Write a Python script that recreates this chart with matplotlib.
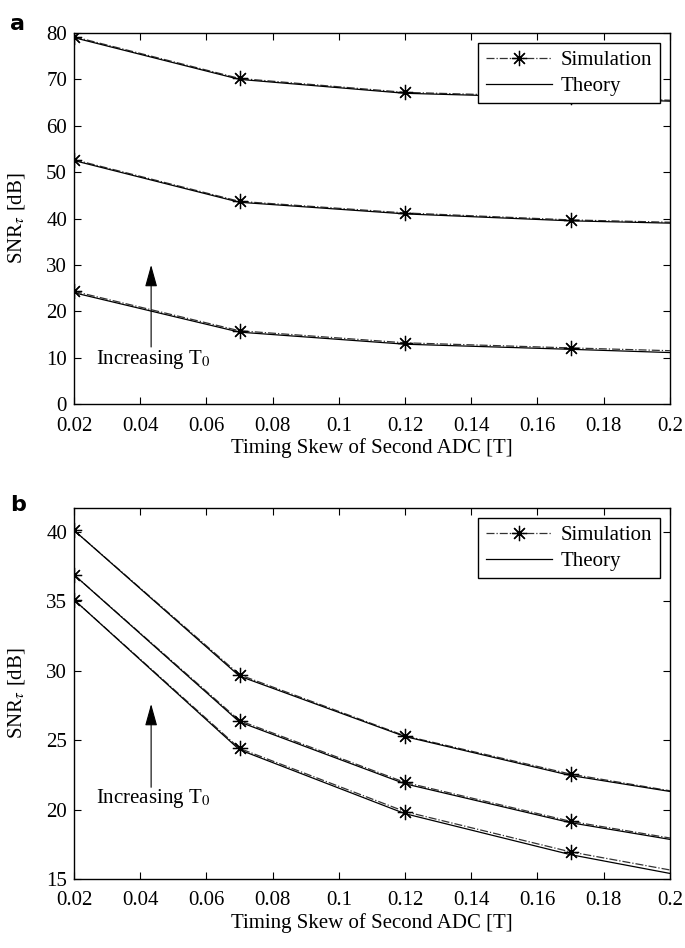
import matplotlib
matplotlib.use("Agg")
import matplotlib.pyplot as plt

plt.rcParams['font.family'] = ['Liberation Serif', 'DejaVu Serif']
plt.rcParams['mathtext.fontset'] = 'stix'

# skew values (T); markers only on the first four
x = [0.02, 0.07, 0.12, 0.17, 0.2]
xticks = [0.02, 0.04, 0.06, 0.08, 0.1, 0.12, 0.14, 0.16, 0.18, 0.2]
xticklabels = ["0.02", "0.04", "0.06", "0.08", "0.1", "0.12", "0.14", "0.16", "0.18", "0.2"]

# panel a
a_theory = [
    [79.0, 70.0, 67.0, 66.0, 65.3],
    [52.5, 43.5, 41.0, 39.5, 39.0],
    [24.0, 15.5, 12.9, 11.8, 11.1],
]
a_sim = [
    [79.2, 70.2, 67.2, 66.2, 65.5],
    [52.7, 43.7, 41.2, 39.7, 39.2],
    [24.3, 15.8, 13.2, 12.1, 11.5],
]
a_yticks = [0, 10, 20, 30, 40, 50, 60, 70, 80]

# panel b
b_theory = [
    [40.1, 29.6, 25.25, 22.45, 21.3],
    [36.9, 26.3, 21.85, 19.05, 17.85],
    [35.1, 24.3, 19.7, 16.75, 15.4],
]
b_sim = [
    [40.1, 29.7, 25.3, 22.55, 21.35],
    [36.9, 26.4, 21.95, 19.15, 17.95],
    [35.1, 24.4, 19.85, 16.95, 15.65],
]
b_yticks = [15, 20, 25, 30, 35, 40]

fig = plt.figure(figsize=(6.85, 9.48), dpi=100)
ax_a = fig.add_axes([0.108, 0.5738, 0.870, 0.3914])
ax_b = fig.add_axes([0.108, 0.0728, 0.870, 0.3913])

asterisk = (8, 2, 0)


def draw(ax, theory, sim, yticks, ylim, arrow, text_y):
    for i in range(len(theory)):
        ax.plot(x, sim[i], linestyle='-.', color='#333333', linewidth=0.9,
                marker=asterisk, markevery=[0, 1, 2, 3], markersize=11,
                markeredgewidth=0.9, markeredgecolor='black',
                label='Simulation' if i == 0 else None)
        ax.plot(x, theory[i], '-', color='black', linewidth=0.9,
                label='Theory' if i == 0 else None)
    ax.set_xlim(0.02, 0.2)
    ax.set_ylim(*ylim)
    ax.set_xticks(xticks)
    ax.set_xticklabels(xticklabels)
    ax.set_yticks(yticks)
    ax.tick_params(direction='in', top=True, right=True, labelsize=15,
                   length=5, width=0.8)
    ax.tick_params(axis='x', pad=9)
    ax.tick_params(axis='y', pad=5)
    for s in ax.spines.values():
        s.set_linewidth(1.0)
    ax.set_xlabel("Timing Skew of Second ADC [T]", fontsize=15, labelpad=2)
    ax.set_ylabel(r"SNR$_\tau$ [dB]", fontsize=15, labelpad=14)
    ax.annotate("", xy=(0.0433, arrow[1]), xytext=(0.0433, arrow[0]),
                arrowprops=dict(arrowstyle='-|>,head_length=0.9,head_width=0.25',
                                color='black', lw=0.8,
                                mutation_scale=15, shrinkA=0, shrinkB=0))
    ax.text(0.0265, text_y, r"Increasing T$_0$", fontsize=15, va='center', ha='left')
    leg = ax.legend(loc='upper right', fontsize=15, fancybox=False,
                    edgecolor='black', framealpha=1, borderpad=0.35,
                    handlelength=3.2, handletextpad=0.4, labelspacing=0.3,
                    borderaxespad=0.5)
    leg.get_frame().set_linewidth(1.0)


draw(ax_a, a_theory, a_sim, a_yticks, (0, 80), (12.3, 30.0), 9.5)
draw(ax_b, b_theory, b_sim, b_yticks, (15, 41.7), (21.6, 27.6), 20.8)

fig.text(0.015, 0.985, "a", fontsize=16, fontweight='bold', family='DejaVu Sans',
         va='top', ha='left')
fig.text(0.015, 0.478, "b", fontsize=16, fontweight='bold', family='DejaVu Sans',
         va='top', ha='left')

fig.savefig("out.png", dpi=100)
